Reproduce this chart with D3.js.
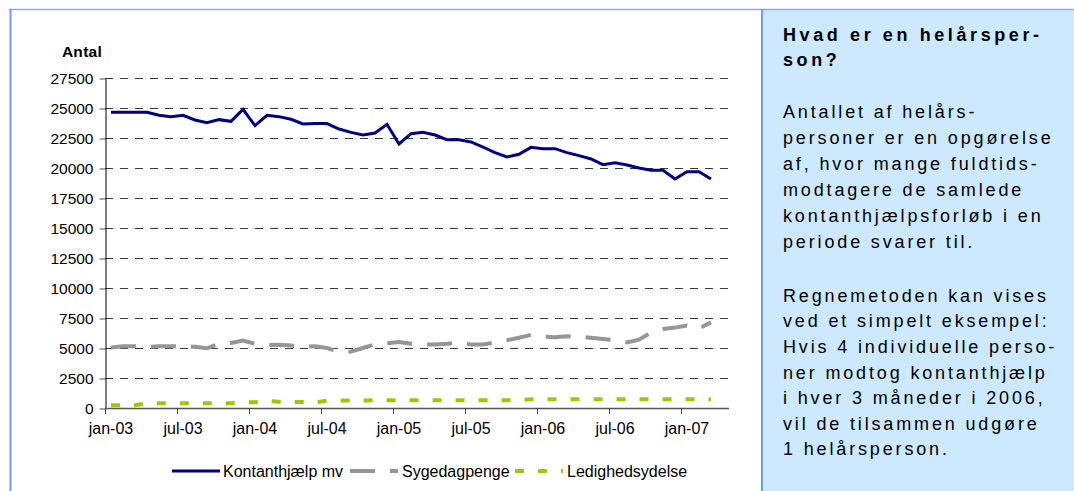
<!DOCTYPE html>
<html>
<head>
<meta charset="utf-8">
<script src="https://cdnjs.cloudflare.com/ajax/libs/d3/7.8.5/d3.min.js"></script>
<style>
    body { margin: 0; background: #fff; }
    svg { display: block; font-family: "Liberation Sans", Arial, Helvetica, sans-serif; }
</style>
</head>
<body>
<div id="chart"></div>
<script>
// kategorier (maaneder) - sidste kategori er tom
var months = [
    "jan-03", "feb-03", "mar-03", "apr-03", "maj-03", "jun-03", "jul-03", "aug-03", "sep-03", "okt-03", "nov-03", "dec-03",
    "jan-04", "feb-04", "mar-04", "apr-04", "maj-04", "jun-04", "jul-04", "aug-04", "sep-04", "okt-04", "nov-04", "dec-04",
    "jan-05", "feb-05", "mar-05", "apr-05", "maj-05", "jun-05", "jul-05", "aug-05", "sep-05", "okt-05", "nov-05", "dec-05",
    "jan-06", "feb-06", "mar-06", "apr-06", "maj-06", "jun-06", "jul-06", "aug-06", "sep-06", "okt-06", "nov-06", "dec-06",
    "jan-07", "feb-07", "mar-07", "apr-07"
];
var xTickLabels = ["jan-03", "jul-03", "jan-04", "jul-04", "jan-05", "jul-05", "jan-06", "jul-06", "jan-07"];
var yTicks = [0, 2500, 5000, 7500, 10000, 12500, 15000, 17500, 20000, 22500, 25000, 27500];

var kontanthjaelp = [
    24640, 24640, 24640, 24640, 24390, 24280, 24390, 24000, 23780, 24030, 23890, 24890,
    23530, 24390, 24280, 24060, 23670, 23700, 23700, 23250, 22970, 22750, 22920, 23640,
    22000, 22860, 22970, 22750, 22360, 22360, 22170, 21750, 21280, 20920, 21140, 21720,
    21610, 21610, 21280, 21030, 20750, 20280, 20440, 20250, 20000, 19810, 19810, 19080,
    19690, 19690, 19080
];
var sygedagpenge = [
    5050, 5140, 5140, 5100, 5140, 5140, 5140, 5100, 4980, 5370, 5420, 5620,
    5350, 5250, 5280, 5200, 5100, 5150, 5000, 4680, 4700, 5000, 5300, 5400,
    5500, 5350, 5300, 5300, 5350, 5450, 5300, 5300, 5450, 5650, 5850, 6100,
    5950, 5900, 5970, 5950, 5850, 5750, 5650, 5470, 5700, 6300, 6580, 6700,
    6880, 6620, 7140
];
var ledighedsydelse = [
    220, 220, 225, 390, 390, 395, 395, 400, 400, 405, 405, 480,
    480, 580, 520, 505, 505, 470, 615, 615, 620, 620, 645, 645,
    645, 645, 645, 645, 645, 645, 645, 645, 645, 645, 645, 720,
    720, 720, 720, 720, 720, 720, 720, 720, 720, 720, 720, 720,
    720, 720, 720
];
var seriesNames = ["Kontanthjælp mv", "Sygedagpenge", "Ledighedsydelse"];

var boxTitle = ["Hvad er en helårsper-", "son?"];
var boxText1 = [
    "Antallet af helårs-",
    "personer er en opgørelse",
    "af, hvor mange fuldtids-",
    "modtagere de samlede",
    "kontanthjælpsforløb i en",
    "periode svarer til."
];
var boxText2 = [
    "Regnemetoden kan vises",
    "ved et simpelt eksempel:",
    "Hvis 4 individuelle perso-",
    "ner modtog kontanthjælp",
    "i hver 3 måneder i 2006,",
    "vil de tilsammen udgøre",
    "1 helårsperson."
];

var W = 1074, H = 491;
var svg = d3.select("#chart").append("svg")
    .attr("width", W)
    .attr("height", H);

// ramme + infoboks
svg.append("rect")
    .attr("x", 762).attr("y", 10)
    .attr("width", W - 762).attr("height", H - 10)
    .attr("fill", "#cce9ff");
svg.append("line").attr("x1", 9).attr("x2", W).attr("y1", 9.5).attr("y2", 9.5)
    .attr("stroke", "#86a9ff").attr("stroke-width", 1.5);
svg.append("line").attr("x1", 10.5).attr("x2", 10.5).attr("y1", 9).attr("y2", H)
    .attr("stroke", "#6e9bff").attr("stroke-width", 2);
svg.append("line").attr("x1", 762).attr("x2", 762).attr("y1", 9).attr("y2", H)
    .attr("stroke", "#6e9bff").attr("stroke-width", 2);

// skalaer
var x = d3.scaleBand().domain(months).range([105, 729]);
var y = d3.scaleLinear().domain([0, 27500]).range([408, 78]);
var bw = x.bandwidth();

// gitterlinjer
svg.append("g")
    .selectAll("line")
    .data(yTicks.filter(function (d) { return d > 0; }))
  .enter().append("line")
    .attr("x1", 105).attr("x2", 729)
    .attr("y1", function (d) { return Math.round(y(d)) + 0.5; })
    .attr("y2", function (d) { return Math.round(y(d)) + 0.5; })
    .attr("stroke", "#3a3a3a")
    .attr("stroke-width", 1)
    .attr("stroke-dasharray", "8,7");

// y-akse
var yAxis = svg.append("g")
    .attr("transform", "translate(105.5,0.5)")
    .call(d3.axisLeft(y).tickValues(yTicks).tickSize(6).tickSizeOuter(0).tickPadding(6).tickFormat(d3.format("d")));
yAxis.select(".domain").attr("stroke", "#000");
yAxis.selectAll(".tick line").attr("stroke", "#555");
yAxis.selectAll("text")
    .attr("font-family", "Liberation Sans, Arial, sans-serif")
    .attr("font-size", "15.5px")
    .attr("fill", "#000");

svg.append("text")
    .attr("x", 82).attr("y", 57)
    .attr("text-anchor", "middle")
    .attr("font-size", "15.5px")
    .attr("font-weight", "bold")
    .attr("letter-spacing", "0.3px")
    .text("Antal");

// x-akse
var xg = svg.append("g");
xg.append("line")
    .attr("x1", 105).attr("x2", 729).attr("y1", 408.5).attr("y2", 408.5)
    .attr("stroke", "#555").attr("stroke-width", 1.5);
xg.selectAll(".xtick")
    .data(xTickLabels)
  .enter().append("line")
    .attr("class", "xtick")
    .attr("x1", function (d) { return Math.round(x(d)) + 0.5; })
    .attr("x2", function (d) { return Math.round(x(d)) + 0.5; })
    .attr("y1", 408).attr("y2", 414)
    .attr("stroke", "#444");
xg.selectAll(".xlabel")
    .data(xTickLabels)
  .enter().append("text")
    .attr("class", "xlabel")
    .attr("x", function (d) { return x(d) + bw / 2; })
    .attr("y", 434)
    .attr("text-anchor", "middle")
    .attr("font-size", "16px")
    .text(function (d) { return d; });

// linjer
var line = d3.line()
    .x(function (d, i) { return x(months[i]) + bw / 2; })
    .y(function (d) { return y(d); });

svg.append("path")
    .datum(ledighedsydelse)
    .attr("d", line)
    .attr("fill", "none")
    .attr("stroke", "#99cc00")
    .attr("stroke-width", 4)
    .attr("stroke-dasharray", "9,14");

svg.append("path")
    .datum(sygedagpenge)
    .attr("d", line)
    .attr("fill", "none")
    .attr("stroke", "#969696")
    .attr("stroke-width", 4)
    .attr("stroke-dasharray", "25,15");

svg.append("path")
    .datum(kontanthjaelp)
    .attr("d", line)
    .attr("fill", "none")
    .attr("stroke", "#000080")
    .attr("stroke-width", 3)
    .attr("stroke-linejoin", "miter");

// legende
var legendItems = [
    { name: seriesNames[0], color: "#000080", width: 3, dash: null, x: 172, tx: 223 },
    { name: seriesNames[1], color: "#969696", width: 4, dash: "25,15", x: 350, tx: 402 },
    { name: seriesNames[2], color: "#99cc00", width: 4, dash: "9,14", x: 515, tx: 567 }
];
var legend = svg.selectAll(".legend")
    .data(legendItems)
  .enter().append("g")
    .attr("class", "legend");
legend.append("line")
    .attr("x1", function (d) { return d.x; })
    .attr("x2", function (d) { return d.x + 48; })
    .attr("y1", 471).attr("y2", 471)
    .attr("stroke", function (d) { return d.color; })
    .attr("stroke-width", function (d) { return d.width; })
    .attr("stroke-dasharray", function (d) { return d.dash; });
legend.append("text")
    .attr("x", function (d) { return d.tx; })
    .attr("y", 476.5)
    .attr("font-size", "16px")
    .text(function (d) { return d.name; });

// infoboks tekst
var box = svg.append("g").attr("fill", "#000");
box.selectAll(".title")
    .data(boxTitle)
  .enter().append("text")
    .attr("class", "title")
    .attr("x", 783)
    .attr("y", function (d, i) { return 41 + i * 25; })
    .attr("font-size", "18px")
    .attr("font-weight", "bold")
    .attr("letter-spacing", "3.6px")
    .text(function (d) { return d; });

box.selectAll(".body1")
    .data(boxText1)
  .enter().append("text")
    .attr("class", "body1")
    .attr("x", 783)
    .attr("y", function (d, i) { return 118.3 + i * 26; })
    .attr("font-size", "18px")
    .attr("letter-spacing", "2.85px")
    .text(function (d) { return d; });

box.selectAll(".body2")
    .data(boxText2)
  .enter().append("text")
    .attr("class", "body2")
    .attr("x", 783)
    .attr("y", function (d, i) { return 301.7 + i * 25.6; })
    .attr("font-size", "18px")
    .attr("letter-spacing", "2.85px")
    .text(function (d) { return d; });
</script>
</body>
</html>
